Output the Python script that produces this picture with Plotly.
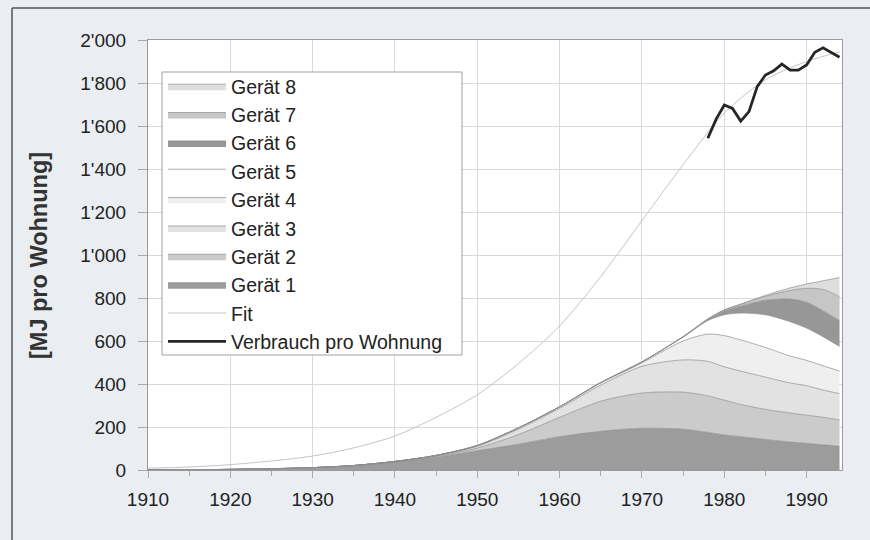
import plotly.graph_objects as go

# ---- data ----
years = [1910, 1915, 1920, 1925, 1930, 1935, 1940, 1945, 1950, 1955, 1960,
         1965, 1970, 1975, 1978, 1980, 1982, 1985, 1988, 1990, 1992, 1994]

geraet_1 = [0, 1, 3, 6, 11, 20, 37, 60, 90, 120, 155, 180, 194, 190, 175, 163, 155, 142, 130, 124, 117, 110]
geraet_2 = [0, 0, 0, 0, 0, 1, 2, 4, 12, 45, 90, 140, 164, 172, 170, 162, 150, 140, 135, 131, 128, 123]
geraet_3 = [0, 0, 0, 0, 0, 0, 1, 2, 8, 25, 42, 75, 124, 150, 160, 155, 155, 150, 140, 137, 127, 122]
geraet_4 = [0, 0, 0, 0, 0, 0, 0, 2, 4, 6, 7, 10, 16, 88, 127, 145, 145, 138, 125, 118, 113, 105]
geraet_5 = [0, 0, 0, 0, 0, 0, 0, 0, 0, 0, 0, 2, 5, 18, 63, 97, 125, 152, 160, 150, 135, 115]
geraet_6 = [0, 0, 0, 0, 0, 0, 0, 0, 0, 0, 0, 0, 0, 2, 5, 18, 32, 68, 105, 120, 120, 120]
geraet_7 = [0, 0, 0, 0, 0, 0, 0, 0, 0, 0, 0, 0, 0, 0, 2, 4, 8, 18, 40, 65, 100, 111]
geraet_8 = [0, 0, 0, 0, 0, 0, 0, 0, 0, 0, 0, 0, 0, 0, 1, 1, 2, 4, 12, 20, 40, 89]

fit_years = [1910, 1915, 1920, 1925, 1930, 1935, 1940, 1945, 1950, 1955,
             1960, 1965, 1970, 1975, 1980, 1985, 1990, 1994]
fit_values = [8, 14, 25, 42, 65, 103, 158, 245, 350, 495,
              670, 900, 1160, 1420, 1660, 1815, 1900, 1945]

verbrauch_years = list(range(1978, 1995))
verbrauch_values = [1543, 1631, 1698, 1682, 1623, 1667, 1783, 1837, 1857,
                    1888, 1860, 1860, 1884, 1943, 1964, 1943, 1920]

series_names = ["Gerät 1", "Gerät 2", "Gerät 3", "Gerät 4",
                "Gerät 5", "Gerät 6", "Gerät 7", "Gerät 8"]
series_values = [geraet_1, geraet_2, geraet_3, geraet_4,
                 geraet_5, geraet_6, geraet_7, geraet_8]
series_colors = ["#9c9c9c", "#cbcbcb", "#e2e2e2", "#efefef",
                 "#ffffff", "#979797", "#c6c6c6", "#dedede"]

# ---- figure ----
FONT = "Liberation Sans, Arial, sans-serif"
fig = go.Figure()

for i, (name, vals, col) in enumerate(zip(series_names, series_values, series_colors)):
    fig.add_trace(go.Scatter(
        x=years, y=vals, name=name, stackgroup="one", mode="lines",
        line=dict(color="#8c8c8c", width=0.7, shape="spline", smoothing=0.8),
        fillcolor=col, legendrank=8 - i,
    ))

fig.add_trace(go.Scatter(
    x=fit_years, y=fit_values, name="Fit", mode="lines",
    line=dict(color="#c4c4c4", width=1, shape="spline", smoothing=0.8),
    legendrank=9,
))
fig.add_trace(go.Scatter(
    x=verbrauch_years, y=verbrauch_values, name="Verbrauch pro Wohnung", mode="lines",
    line=dict(color="#262626", width=2.8),
    legendrank=10,
))

L, R, T, B = 148, 28, 40, 70
W, H = 870, 540
pw = W - L - R
ph = H - T - B

def px_x(p):
    return (p - L) / pw

def px_y(p):
    return (H - B - p) / ph

fig.update_layout(
    width=W, height=H,
    margin=dict(l=L, r=R, t=T, b=B),
    paper_bgcolor="#eaeef2",
    plot_bgcolor="#ffffff",
    separators=".'",
    font=dict(family=FONT, size=19, color="#222222"),
    showlegend=True,
    legend=dict(
        x=px_x(163), y=px_y(67), xanchor="left", yanchor="top",
        bgcolor="rgba(0,0,0,0)", borderwidth=0,
        traceorder="normal", itemwidth=58,
        font=dict(family=FONT, size=19.5, color="#222222"),
    ),
    xaxis=dict(
        range=[1910, 1994.3], tickmode="linear", tick0=1910, dtick=10,
        showgrid=True, gridcolor="#d9d9d9", gridwidth=1,
        ticks="outside", ticklen=7, tickcolor="#aaaaaa",
        minor=dict(dtick=5, tick0=1910, ticks="outside", ticklen=5, tickcolor="#aaaaaa", showgrid=False),
        showline=True, linecolor="#9a9a9a", linewidth=1, mirror=True,
        zeroline=False,
        tickfont=dict(family=FONT, size=19, color="#222222"),
        ticklabelstandoff=5,
    ),
    yaxis=dict(
        range=[0, 2000], tickmode="linear", tick0=0, dtick=200,
        tickformat=",d",
        showgrid=True, gridcolor="#d9d9d9", gridwidth=1,
        ticks="outside", ticklen=9, tickcolor="#aaaaaa",
        showline=True, linecolor="#9a9a9a", linewidth=1, mirror=True,
        zeroline=False,
        tickfont=dict(family=FONT, size=19, color="#222222"),
        ticklabelstandoff=8,
    ),
    annotations=[
        dict(text="<b>[MJ pro Wohnung]</b>", xref="paper", yref="paper",
             x=px_x(39), y=px_y(256), xanchor="center", yanchor="middle",
             textangle=-90, showarrow=False,
             font=dict(family=FONT, size=23.5, color="#333333")),
    ],
    shapes=[
        dict(type="line", xref="paper", yref="paper",
             x0=px_x(12), x1=px_x(870), y0=px_y(8), y1=px_y(8),
             line=dict(color="#555555", width=1.5)),
        dict(type="line", xref="paper", yref="paper",
             x0=px_x(12), x1=px_x(12), y0=px_y(8), y1=px_y(540),
             line=dict(color="#555555", width=1.5)),
        dict(type="rect", xref="paper", yref="paper", layer="above",
             x0=px_x(162), x1=px_x(462), y0=px_y(72), y1=px_y(355),
             fillcolor="#ffffff", line=dict(color="#a0a0a0", width=1)),
    ],
)

fig.write_html(
    "out.html", config={"displayModeBar": False},
    post_script=("document.documentElement.style.overflow='hidden';"
                 "document.body.style.overflow='hidden';"
                 "document.body.style.margin='0';"
                 "document.body.style.background='#eef1f4';"),
)
